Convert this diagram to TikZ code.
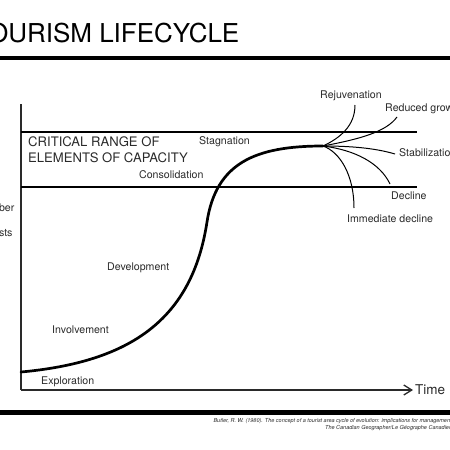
\documentclass[tikz,border=0pt]{standalone}
\usepackage{fontspec}
\setmainfont{TeX Gyre Heros}
\usetikzlibrary{positioning, arrows.meta}
\definecolor{Ink}{HTML}{2A2A2A}
\tikzset{
    stage/.style={font=\fontsize{10.6}{12.5}\selectfont, text=Ink, inner sep=0pt},
    capbox/.style={font=\fontsize{13.1}{16}\selectfont, text=Ink, inner sep=0pt, align=left},
    heading/.style={font=\fontsize{26}{30}\selectfont, text=black, inner sep=0pt},
    cite/.style={font=\itshape\fontsize{5.5}{7}\selectfont, text=Ink, inner sep=0pt, align=right},
    axis/.style={line width=1.5pt, color=Ink},
    rangeline/.style={line width=1.3pt, color=black},
    lifecurve/.style={line width=2.7pt, line cap=round},
    branch/.style={line width=1pt},
    rule/.style={line width=4.5pt},
}

\begin{document}
\begin{tikzpicture}[x=1pt, y=-1pt]
    \useasboundingbox (0,0) rectangle (450,450);
    \clip (0,0) rectangle (450,450);

    % Title and rules
    \node[heading, anchor=base west] (title) at (-27,42.7) {TOURISM LIFECYCLE};
    \coordinate (topL) at (0,58);
    \coordinate (topR) at (450,58);
    \coordinate (botL) at (0,412);
    \coordinate (botR) at (450,412);
    \draw[rule] (topL) -- (topR);
    \draw[rule, line width=5pt] (botL) -- (botR);
    \node[cite, anchor=east] (ref) at (485,424.5) {Butler, R. W. (1980). The concept of a tourist area cycle of evolution: implications for management of resources.\\The Canadian Geographer/Le G\'eographe Canadien, 24(1), 5--12.};

    % Axes
    \coordinate (origin) at (21,390);
    \coordinate (ytop) at (21,104);
    \coordinate (xend) at (413,390);
    \draw[axis] (ytop) -- (origin);
    \draw[axis, -{Straight Barb[length=8pt, width=10pt, line width=1.3pt]}] (origin) -- (xend);
    \node[stage, font=\fontsize{13.5}{15}\selectfont, right=2pt of xend] (time) {Time};
    \node[stage, align=center] (ylabel) at (-4.5,220) {Number\\of\\tourists};

    % Critical range of capacity
    \coordinate (hiL) at (21,132);
    \coordinate (hiR) at (417,132);
    \coordinate (loL) at (21,187);
    \coordinate (loR) at (417,187);
    \draw[rangeline] (hiL) -- (hiR);
    \draw[rangeline] (loL) -- (loR);
    \node[capbox, anchor=west] (critical) at (28,150) {CRITICAL RANGE OF\\ELEMENTS OF CAPACITY};

    % Lifecycle curve
    \coordinate (start) at (21,372);
    \coordinate (peak) at (323,146);
    \draw[lifecurve] (start) .. controls (130,362) and (192,320) .. (207,222)
        .. controls (216,163) and (255,146) .. (peak);

    % Stages
    \node[stage, anchor=west] (exploration) at (41,382) {Exploration};
    \node[stage, anchor=west] (involvement) at (52,330) {Involvement};
    \node[stage, anchor=west] (development) at (107,268) {Development};
    \node[stage, anchor=west] (consolidation) at (139,175) {Consolidation};
    \node[stage, anchor=west] (stagnation) at (199,142) {Stagnation};

    % Possible futures
    \coordinate (rejEnd) at (355,105);
    \coordinate (redEnd) at (397,117);
    \coordinate (stabEnd) at (395,154);
    \coordinate (decEnd) at (390,184);
    \coordinate (immEnd) at (354,208);
    \draw[branch] (peak) .. controls (340,138) and (355,126) .. (rejEnd);
    \draw[branch] (peak) .. controls (360,139) and (386,132) .. (redEnd);
    \draw[branch] (peak) .. controls (350,146) and (375,148) .. (stabEnd);
    \draw[branch] (peak) .. controls (355,150) and (380,163) .. (decEnd);
    \draw[branch] (peak) .. controls (340,152) and (354,175) .. (immEnd);
    \node[stage] (rejuvenation) at (351,96) {Rejuvenation};
    \node[stage, anchor=west] (reduced) at (385,109) {Reduced growth};
    \node[stage, anchor=west] (stabilization) at (399,153) {Stabilization};
    \node[stage, anchor=west] (decline) at (391,196) {Decline};
    \node[stage, anchor=west] (immediate) at (347,219) {Immediate decline};
\end{tikzpicture}
\end{document}
